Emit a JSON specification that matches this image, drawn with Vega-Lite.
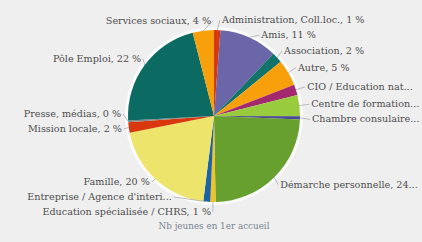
{
  "$schema": "https://vega.github.io/schema/vega-lite/v6.json",
  "width": 416,
  "height": 232,
  "autosize": {"type": "none"},
  "padding": {"left": 6, "top": 0, "right": 0, "bottom": 10},
  "background": "#efefef",
  "view": {"stroke": null},
  "title": {"text": "Nb jeunes en 1er accueil", "orient": "bottom", "offset": -10, "font": "DejaVu Serif", "fontSize": 8.8, "fontWeight": "normal", "color": "#7a8593"},
  "data": {"values": [
    {"name": "Administration, Coll.loc.", "label": "Administration, Coll.loc., 1 %", "value": 1.2},
    {"name": "Amis", "label": "Amis, 11 %", "value": 11},
    {"name": "Association", "label": "Association, 2 %", "value": 2},
    {"name": "Autre", "label": "Autre, 5 %", "value": 5},
    {"name": "CIO / Education nationale", "label": "CIO / Education nat...", "value": 2},
    {"name": "Centre de formation", "label": "Centre de formation...", "value": 4},
    {"name": "Chambre consulaire", "label": "Chambre consulaire...", "value": 0.6},
    {"name": "Démarche personnelle", "label": "Démarche personnelle, 24...", "value": 24.2},
    {"name": "Education spécialisée / CHRS", "label": "Education spécialisée / CHRS, 1 %", "value": 1},
    {"name": "Entreprise / Agence d'intérim", "label": "Entreprise / Agence d'interi...", "value": 1.3},
    {"name": "Famille", "label": "Famille, 20 %", "value": 20},
    {"name": "Mission locale", "label": "Mission locale, 2 %", "value": 2},
    {"name": "Presse, médias", "label": "Presse, médias, 0 %", "value": 0.3},
    {"name": "Pôle Emploi", "label": "Pôle Emploi, 22 %", "value": 22},
    {"name": "Services sociaux", "label": "Services sociaux, 4 %", "value": 4}
  ]},
  "transform": [
    {"joinaggregate": [{"op": "sum", "field": "value", "as": "total"}]},
    {"window": [{"op": "row_number", "as": "idx"}, {"op": "sum", "field": "value", "as": "cum"}], "frame": [null, 0]},
    {"calculate": "(datum.cum - datum.value/2)/datum.total*2*PI", "as": "ang"},
    {"calculate": "datum.ang < PI ? 1 : -1", "as": "s"},
    {"calculate": "116 - 96*cos(datum.ang)", "as": "ny"},
    {"window": [{"op": "row_number", "as": "k"}], "groupby": ["s"], "sort": [{"field": "idx"}]},
    {"calculate": "datum.s*datum.ny - datum.k*15", "as": "u"},
    {"window": [{"op": "max", "field": "u", "as": "cm"}], "groupby": ["s"], "sort": [{"field": "idx"}], "frame": [null, 0]},
    {"calculate": "datum.s*(datum.cm + datum.k*15)", "as": "ly"},
    {"calculate": "208 + datum.s*(sqrt(max(0, 8100 - pow(datum.ly-116, 2))) + (datum.s > 0 ? 8 : 3))", "as": "lx"},
    {"calculate": "208 + 86*sin(datum.ang)", "as": "px"},
    {"calculate": "116 - 86*cos(datum.ang)", "as": "py"},
    {"calculate": "datum.lx - datum.s*2", "as": "qx"}
  ],
  "layer": [
    {
      "mark": {"type": "arc", "outerRadius": 89, "color": "#ffffff", "opacity": 0.75},
      "encoding": {
        "theta": {"field": "value", "type": "quantitative", "stack": true},
        "order": {"field": "idx", "type": "quantitative"}
      }
    },
    {
      "mark": {"type": "arc", "outerRadius": 86},
      "encoding": {
        "theta": {"field": "value", "type": "quantitative", "stack": true},
        "order": {"field": "idx", "type": "quantitative"},
        "color": {"field": "name", "type": "nominal", "legend": null,
          "scale": {
            "domain": ["Administration, Coll.loc.", "Amis", "Association", "Autre", "CIO / Education nationale", "Centre de formation", "Chambre consulaire", "Démarche personnelle", "Education spécialisée / CHRS", "Entreprise / Agence d'intérim", "Famille", "Mission locale", "Presse, médias", "Pôle Emploi", "Services sociaux"],
            "range": ["#d9380f", "#6b66a8", "#12736a", "#f7a00c", "#a3286e", "#98cc3c", "#4a4890", "#68a030", "#f2c224", "#1b63a3", "#ede46c", "#d9380f", "#888888", "#0b6b63", "#f7a00c"]
          }}
      }
    },
    {
      "mark": {"type": "rule", "color": "#a0a0a0", "strokeWidth": 0.7},
      "encoding": {
        "x": {"field": "px", "type": "quantitative", "scale": null},
        "y": {"field": "py", "type": "quantitative", "scale": null},
        "x2": {"field": "qx"},
        "y2": {"field": "ly"}
      }
    },
    {
      "transform": [{"filter": "datum.s > 0"}],
      "mark": {"type": "text", "align": "left", "baseline": "middle", "font": "DejaVu Serif", "fontSize": 9.6, "color": "#4d4d4d"},
      "encoding": {
        "x": {"field": "lx", "type": "quantitative", "scale": null},
        "y": {"field": "ly", "type": "quantitative", "scale": null},
        "text": {"field": "label"}
      }
    },
    {
      "transform": [{"filter": "datum.s < 0"}],
      "mark": {"type": "text", "align": "right", "baseline": "middle", "font": "DejaVu Serif", "fontSize": 9.6, "color": "#4d4d4d"},
      "encoding": {
        "x": {"field": "lx", "type": "quantitative", "scale": null},
        "y": {"field": "ly", "type": "quantitative", "scale": null},
        "text": {"field": "label"}
      }
    }
  ]
}
